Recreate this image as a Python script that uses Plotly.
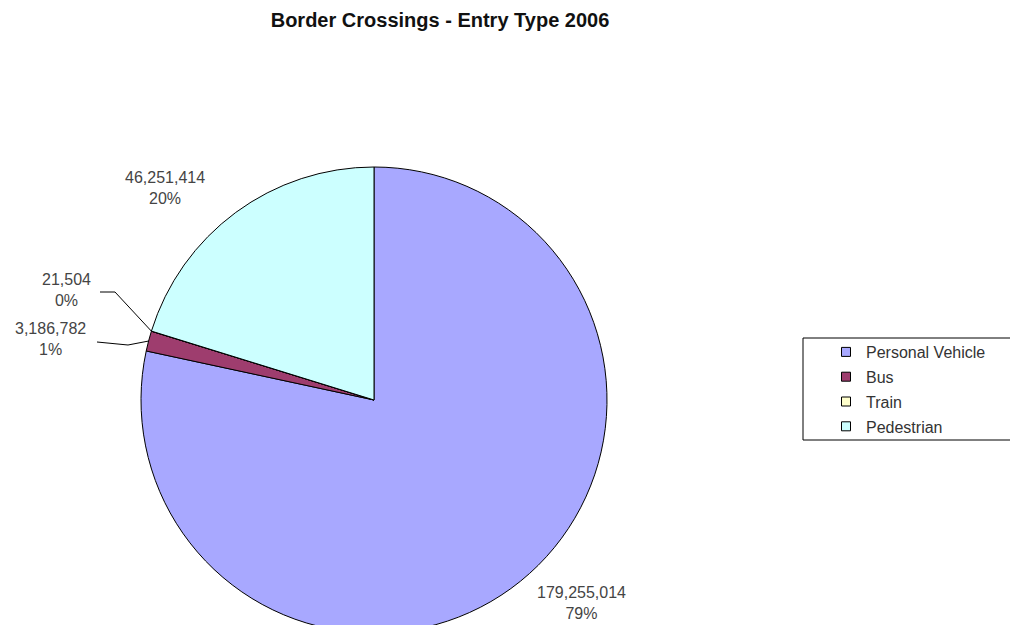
import math
import plotly.graph_objects as go

categories = ["Personal Vehicle", "Bus", "Train", "Pedestrian"]
values = [179255014, 3186782, 21504, 46251414]
pct_labels = ["79%", "1%", "0%", "20%"]
colors = ["#A8A8FF", "#9E3D6E", "#FFFFCC", "#CCFFFF"]

W, H = 1018, 625
OFF = 8  # page body margin
FONT = "Liberation Sans, Arial, sans-serif"


def px(x):
    return (x - OFF) / W


def py(y):
    return 1 - (y - OFF) / H


texts = [f"{v:,}<br>{p}" for v, p in zip(values, pct_labels)]

fig = go.Figure()
CX, CY, R = 374, 400, 233
fig.add_trace(go.Pie(
    labels=categories, values=values, sort=False, direction="clockwise",
    rotation=0, textinfo="none",
    marker=dict(colors=colors, line=dict(color="black", width=1)),
    domain=dict(x=[px(CX - R), px(CX + R)], y=[0, 2 * R / H]),
    showlegend=False, hoverinfo="label+value+percent",
))

for c, col in zip(categories, colors):
    fig.add_trace(go.Scatter(
        x=[None], y=[None], mode="markers", name=c, legendgroup=c,
        marker=dict(symbol="square", size=9, color=col, line=dict(color="black", width=1)),
    ))

# data labels (position per slice)
label_pos = {"Personal Vehicle": (581, 603), "Bus": (50, 339), "Train": (66, 290), "Pedestrian": (165, 188)}
for c, t in zip(categories, texts):
    lx, ly = label_pos[c]
    fig.add_annotation(x=px(lx), y=py(ly), xref="paper", yref="paper", text=t,
                       showarrow=False, xanchor="center", yanchor="middle", align="center",
                       font=dict(family=FONT, size=16, color="#444"))

# leader lines for the small slices, ending on the pie edge at the slice's angle
total = sum(values)
cum = 0
edge = {}
for c, v in zip(categories, values):
    frac_mid = (cum + v / 2) / total
    ang = 2 * math.pi * frac_mid
    edge[c] = (CX + R * math.sin(ang), CY - R * math.cos(ang))
    cum += v
leaders = {"Train": [(100, 292), (115, 292)], "Bus": [(97, 342), (128, 345)]}
for c, pts in leaders.items():
    pts = pts + [edge[c]]
    path = "M " + " L ".join(f"{px(a)},{py(b)}" for a, b in pts)
    fig.add_shape(type="path", xref="paper", yref="paper", path=path,
                  line=dict(color="black", width=1))

fig.add_shape(type="rect", xref="paper", yref="paper",
              x0=px(803), x1=px(1016), y0=py(440), y1=py(338),
              line=dict(color="black", width=1), fillcolor="rgba(0,0,0,0)")

fig.update_layout(
    width=W, height=H, margin=dict(l=0, r=0, t=0, b=0),
    paper_bgcolor="white", plot_bgcolor="white",
    title=dict(text="<b>Border Crossings - Entry Type 2006</b>", x=px(440), xanchor="center",
               y=py(20), yanchor="middle", yref="container",
               font=dict(family=FONT, size=20, color="#111")),
    xaxis=dict(visible=False), yaxis=dict(visible=False),
    legend=dict(x=px(826), y=py(335), xanchor="left", yanchor="top",
                bgcolor="rgba(0,0,0,0)", borderwidth=0, tracegroupgap=1,
                font=dict(family=FONT, size=16, color="#333")),
)

fig.write_html("out.html")
